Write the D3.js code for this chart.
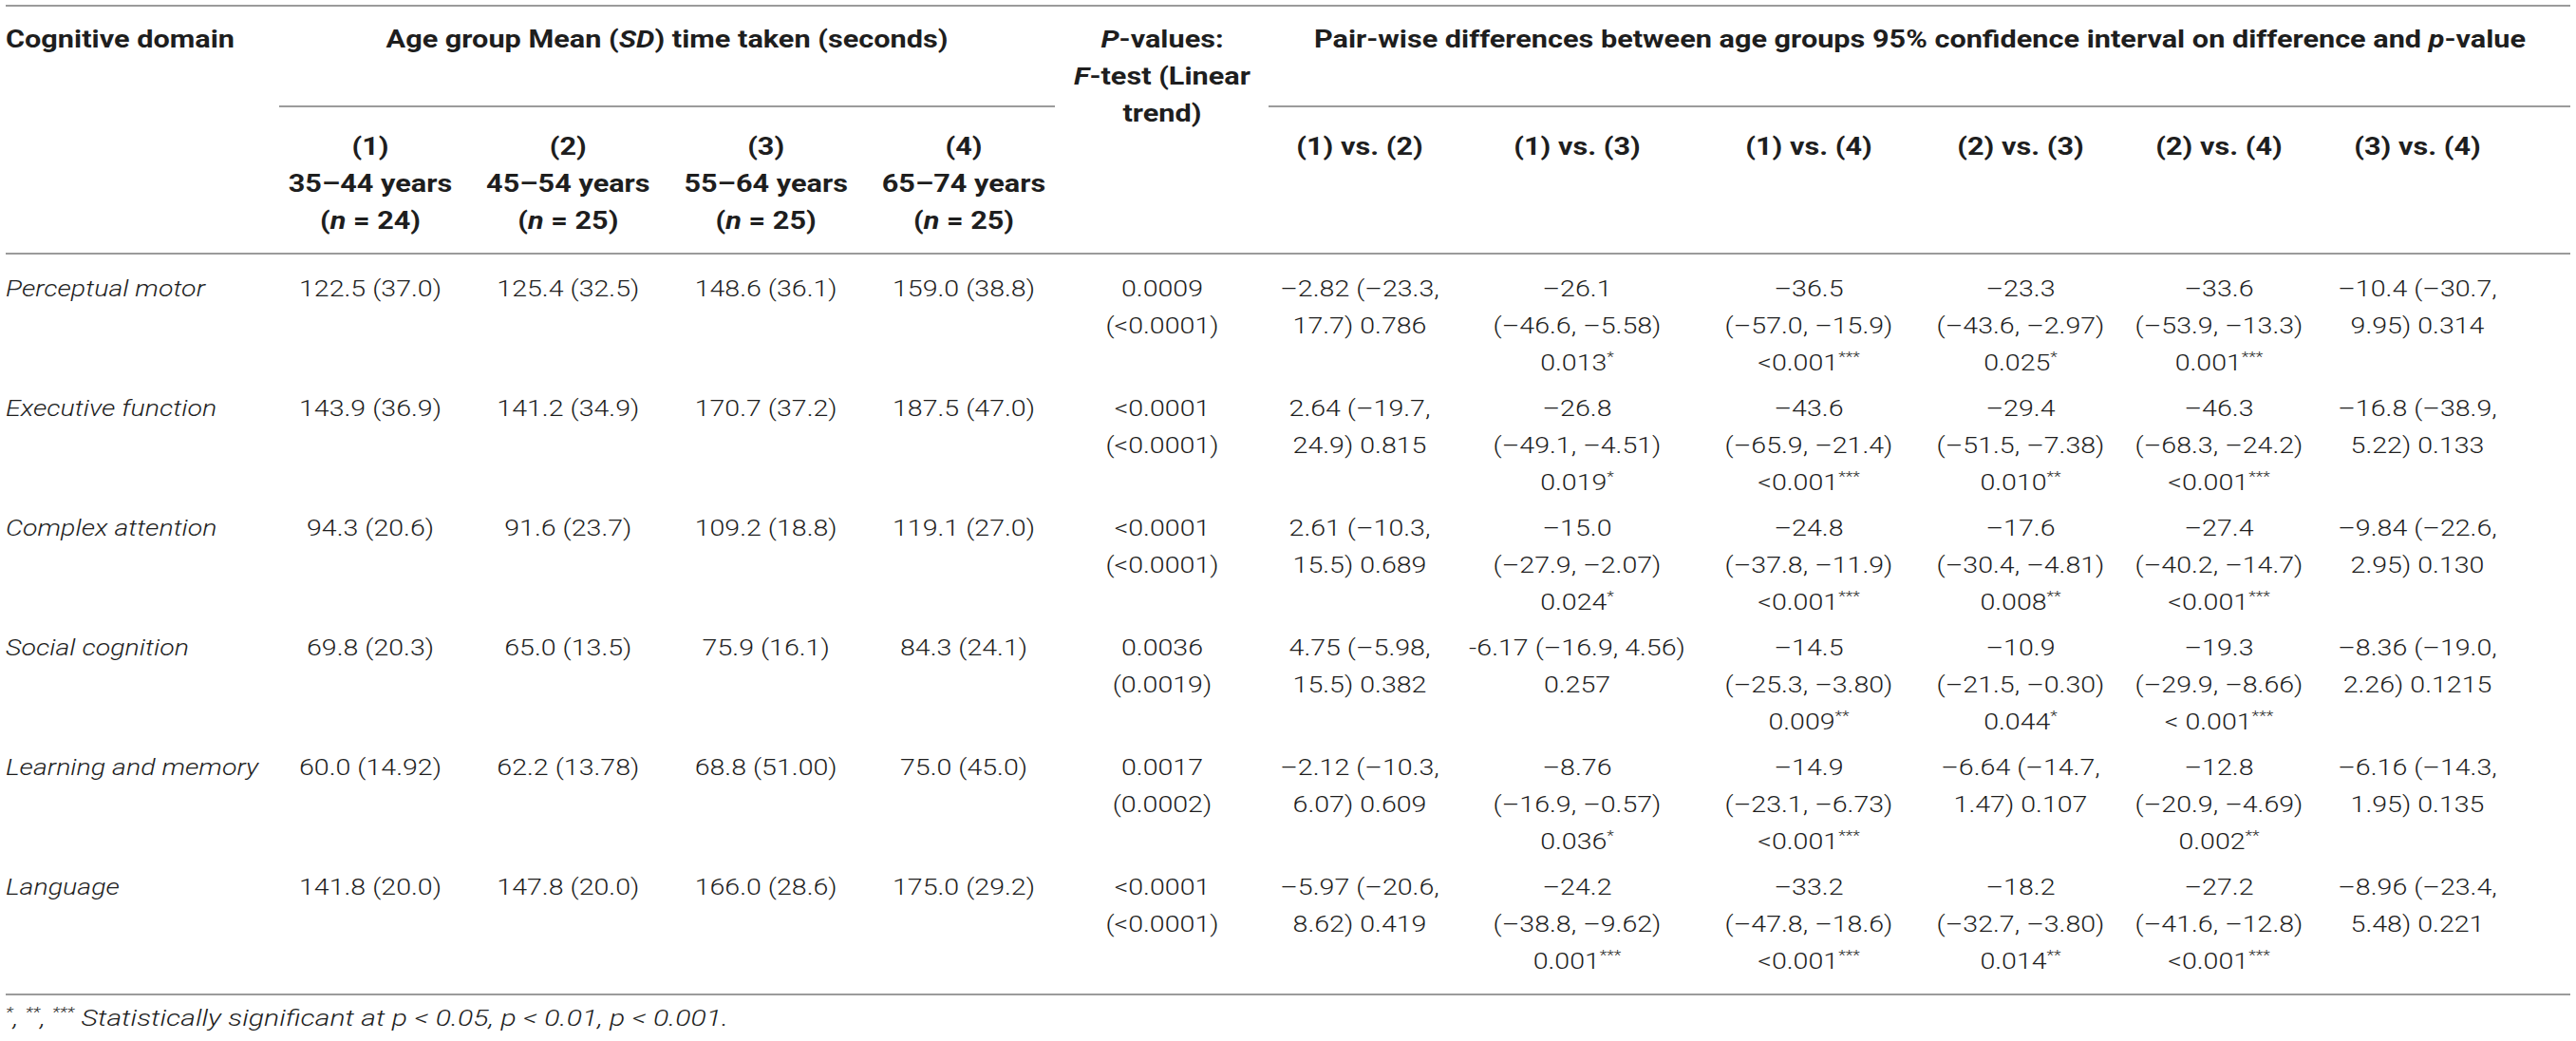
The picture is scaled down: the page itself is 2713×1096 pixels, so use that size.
<!DOCTYPE html>
<html>
<head>
<meta charset="utf-8">
<script src="https://cdn.jsdelivr.net/npm/d3@7"></script>
<style>
body { margin: 0; background: #fff; }
svg { display: block; }
</style>
</head>
<body>
<div class="chart"></div>
<script>
// table content
const domains = ['Perceptual motor', 'Executive function', 'Complex attention',
    'Social cognition', 'Learning and memory', 'Language'];
const groupLabels = ['(1)', '(2)', '(3)', '(4)'];
const groupAges = ['35–44 years', '45–54 years', '55–64 years', '65–74 years'];
const groupN = [24, 25, 25, 25];
const means = [
    ['122.5', '125.4', '148.6', '159.0'],
    ['143.9', '141.2', '170.7', '187.5'],
    ['94.3', '91.6', '109.2', '119.1'],
    ['69.8', '65.0', '75.9', '84.3'],
    ['60.0', '62.2', '68.8', '75.0'],
    ['141.8', '147.8', '166.0', '175.0']
];
const sds = [
    ['37.0', '32.5', '36.1', '38.8'],
    ['36.9', '34.9', '37.2', '47.0'],
    ['20.6', '23.7', '18.8', '27.0'],
    ['20.3', '13.5', '16.1', '24.1'],
    ['14.92', '13.78', '51.00', '45.0'],
    ['20.0', '20.0', '28.6', '29.2']
];
const pTrend = ['0.0009', '<0.0001', '<0.0001', '0.0036', '0.0017', '<0.0001'];
const pLinear = ['<0.0001', '<0.0001', '<0.0001', '0.0019', '0.0002', '<0.0001'];
const pairLabels = ['(1) vs. (2)', '(1) vs. (3)', '(1) vs. (4)', '(2) vs. (3)', '(2) vs. (4)', '(3) vs. (4)'];
// each cell is its wrapped lines; ^ marks the significance stars
const pairCells = [
    [['–2.82 (–23.3,', '17.7) 0.786'], ['–26.1', '(–46.6, –5.58)', '0.013^*'],
     ['–36.5', '(–57.0, –15.9)', '<0.001^***'], ['–23.3', '(–43.6, –2.97)', '0.025^*'],
     ['–33.6', '(–53.9, –13.3)', '0.001^***'], ['–10.4 (–30.7,', '9.95) 0.314']],
    [['2.64 (–19.7,', '24.9) 0.815'], ['–26.8', '(–49.1, –4.51)', '0.019^*'],
     ['–43.6', '(–65.9, –21.4)', '<0.001^***'], ['–29.4', '(–51.5, –7.38)', '0.010^**'],
     ['–46.3', '(–68.3, –24.2)', '<0.001^***'], ['–16.8 (–38.9,', '5.22) 0.133']],
    [['2.61 (–10.3,', '15.5) 0.689'], ['–15.0', '(–27.9, –2.07)', '0.024^*'],
     ['–24.8', '(–37.8, –11.9)', '<0.001^***'], ['–17.6', '(–30.4, –4.81)', '0.008^**'],
     ['–27.4', '(–40.2, –14.7)', '<0.001^***'], ['–9.84 (–22.6,', '2.95) 0.130']],
    [['4.75 (–5.98,', '15.5) 0.382'], ['-6.17 (–16.9, 4.56)', '0.257'],
     ['–14.5', '(–25.3, –3.80)', '0.009^**'], ['–10.9', '(–21.5, –0.30)', '0.044^*'],
     ['–19.3', '(–29.9, –8.66)', '< 0.001^***'], ['–8.36 (–19.0,', '2.26) 0.1215']],
    [['–2.12 (–10.3,', '6.07) 0.609'], ['–8.76', '(–16.9, –0.57)', '0.036^*'],
     ['–14.9', '(–23.1, –6.73)', '<0.001^***'], ['–6.64 (–14.7,', '1.47) 0.107'],
     ['–12.8', '(–20.9, –4.69)', '0.002^**'], ['–6.16 (–14.3,', '1.95) 0.135']],
    [['–5.97 (–20.6,', '8.62) 0.419'], ['–24.2', '(–38.8, –9.62)', '0.001^***'],
     ['–33.2', '(–47.8, –18.6)', '<0.001^***'], ['–18.2', '(–32.7, –3.80)', '0.014^**'],
     ['–27.2', '(–41.6, –12.8)', '<0.001^***'], ['–8.96 (–23.4,', '5.48) 0.221']]
];
const footnote = '^*, ^**, ^*** Statistically significant at p < 0.05, p < 0.01, p < 0.001.';

var width = 2713;
var height = 1096;
var left = 6, right = 2707;
var lineH = 39;
var fontFamily = 'Roboto, "Liberation Sans", Arial, sans-serif';
var headSize = 25, bodySize = 24.5, noteSize = 23.5;
var ink = '#1e1e1e';
var rule = '#9b9b9b';

var svg = d3.select('.chart').append('svg')
    .attr('width', width)
    .attr('height', height);

var xGroup = d3.scalePoint().domain(groupLabels).range([390, 1015]);
var xPair = d3.scaleOrdinal().domain(pairLabels).range([1432, 1661, 1905, 2128, 2337, 2546]);
var xTrend = 1224;
var yRow = d3.scalePoint().domain(domains).range([312, 942]);

// split "a _b_ c^**" into plain, italic and superscript pieces
function segments(str) {
    return str.split(/(_[^_]+_|\^\*+)/).filter(s => s.length).map(s => {
        if (s[0] === '_') return {text: s.slice(1, -1), italic: true};
        if (s[0] === '^') return {text: s.slice(1), sup: true};
        return {text: s};
    });
}

function fillText(t, str, size) {
    let raised = false;
    segments(str).forEach(s => {
        const sp = t.append('tspan').text(s.text);
        if (s.italic) sp.style('font-style', 'italic');
        if (s.sup) {
            sp.attr('font-size', size * 0.62).attr('dy', raised ? null : -size * 0.38);
            raised = true;
        } else if (raised) {
            sp.attr('dy', size * 0.38);
            raised = false;
        }
    });
}

// horizontal stretch so text widths follow the picture
function stretchFor(sample, target, size, weight, style) {
    const t = svg.append('text')
        .style('font-family', fontFamily)
        .style('font-size', size + 'px')
        .style('font-weight', weight)
        .style('font-style', style)
        .text(sample);
    const w = t.node().getComputedTextLength();
    t.remove();
    return target / w;
}

var sxHead = stretchFor('Cognitive domain', 241, headSize, 700, 'normal');
var sxBody = stretchFor('122.5 (37.0)', 150, bodySize, 300, 'normal');
var sxNote = stretchFor('*, **, *** Statistically significant at p < 0.05, p < 0.01, p < 0.001.', 790, noteSize, 300, 'italic');

function label(g, str, x, y, kind, anchor) {
    const size = kind === 'head' ? headSize : kind === 'note' ? noteSize : bodySize;
    const sx = kind === 'head' ? sxHead : kind === 'note' ? sxNote : sxBody;
    const t = g.append('text')
        .attr('transform', `translate(${x},${y}) scale(${sx},1)`)
        .attr('text-anchor', anchor || 'middle')
        .style('font-family', fontFamily)
        .style('font-size', size + 'px')
        .style('font-weight', kind === 'head' ? 700 : 300)
        .style('font-style', kind === 'body' ? 'normal' : (kind === 'note' || kind === 'domain') ? 'italic' : 'normal')
        .style('fill', ink);
    fillText(t, str, size);
    return t;
}

function hline(x1, x2, y) {
    svg.append('line')
        .attr('x1', x1).attr('x2', x2)
        .attr('y1', y).attr('y2', y)
        .style('stroke', rule)
        .style('stroke-width', 2.2);
}

// rules
hline(left, right, 6);
hline(xGroup(groupLabels[0]) - 96, xGroup(groupLabels[3]) + 96, 112);
hline(xPair(pairLabels[0]) - 96, right, 112);
hline(left, right, 267);
hline(left, right, 1047);

// header
var head = svg.append('g').attr('class', 'head');
label(head, 'Cognitive domain', left, 50, 'head', 'start');
label(head, 'Age group Mean (_SD_) time taken (seconds)',
    (xGroup(groupLabels[0]) + xGroup(groupLabels[3])) / 2, 50, 'head');
['_P_-values:', '_F_-test (Linear', 'trend)'].forEach((s, i) => {
    label(head, s, xTrend, 50 + i * lineH, 'head');
});
label(head, 'Pair-wise differences between age groups 95% confidence interval on difference and _p_-value',
    2022, 50, 'head');

groupLabels.forEach((g, i) => {
    label(head, g, xGroup(g), 163, 'head');
    label(head, groupAges[i], xGroup(g), 163 + lineH, 'head');
    label(head, '(_n_ = ' + groupN[i] + ')', xGroup(g), 163 + 2 * lineH, 'head');
});
pairLabels.forEach(p => label(head, p, xPair(p), 163, 'head'));

// body rows
var body = svg.append('g').attr('class', 'body');
domains.forEach((d, r) => {
    const y0 = yRow(d);
    label(body, d, left, y0, 'domain', 'start');
    groupLabels.forEach((g, c) => {
        label(body, means[r][c] + ' (' + sds[r][c] + ')', xGroup(g), y0, 'body');
    });
    label(body, pTrend[r], xTrend, y0, 'body');
    label(body, '(' + pLinear[r] + ')', xTrend, y0 + lineH, 'body');
    pairLabels.forEach((p, c) => {
        pairCells[r][c].forEach((line, k) => {
            label(body, line, xPair(p), y0 + k * lineH, 'body');
        });
    });
});

label(svg, footnote, left, 1080, 'note', 'start');
</script>
</body>
</html>
